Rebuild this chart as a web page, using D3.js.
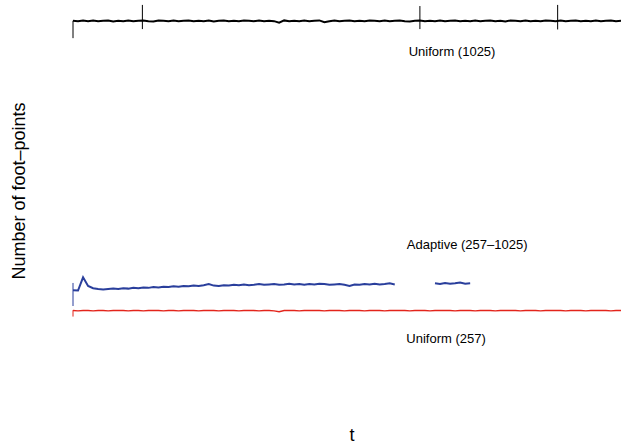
<!DOCTYPE html>
<head>
<meta charset="utf-8">
<style>
body { margin: 0; background: #fff; }
text { font-family: "Liberation Sans", Arial, sans-serif; fill: #000; }
.series { fill: none; stroke-linejoin: miter; }
</style>
</head>
<body>
<script src="https://d3js.org/d3.v7.min.js"></script>
<script>
// sample index along t (same grid for all three runs)
var uniform1025 = [
	1025,1024,1026,1024,1026,1024,1025,1026,1023,1025,
	1024,1026,1024,1025,1026,1024,1023,1026,1025,1024,
	1026,1024,1025,1026,1024,1025,1024,1026,1023,1025,
	1026,1024,1025,1024,1026,1025,1024,1026,1024,1025,
	1024,1020,1026,1024,1025,1024,1026,1024,1025,1026,
	1021,1024,1026,1024,1025,1026,1024,1025,1024,1026,
	1025,1024,1026,1024,1025,1026,1024,1023,1025,1026,
	1024,1025,1024,1026,1024,1025,1026,1024,1025,1024,
	1026,1024,1025,1026,1024,1025,1023,1026,1025,1024,
	1026,1024,1025,1024,1026,1025,1024,1026,1024,1025,
	1026,1024,1025,1024,1026,1024,1025,1026,1024,1025
];

var uniform257 = [
	258,257,258,258,257,258,258,257,258,258,
	258,257,258,258,257,258,258,258,257,258,
	258,257,258,258,258,257,258,258,258,257,
	258,258,258,257,258,258,258,257,258,258,
	257,255,258,258,258,257,258,258,258,258,
	257,258,258,258,257,258,258,258,257,258,
	258,258,257,258,258,258,258,257,258,258,
	258,257,258,258,258,258,257,258,258,258,
	257,258,258,258,257,258,258,258,258,257,
	258,258,258,257,258,258,258,258,257,258,
	258,258,257,258,258,258,258,257,258,258
];

var adaptive = [
	312,311,346,323,317,315,314,315,316,315,
	317,316,318,317,319,318,320,319,321,320,
	322,321,323,322,324,323,325,328,324,323,
	325,324,326,325,327,325,326,328,326,327,
	328,326,327,329,327,328,326,328,327,329,
	328,326,327,328,326,323,327,326,328,327,
	329,327,328,330,327,null,null,null,null,null,
	null,null,330,328,331,329,330,332,329,330
];

// sharp jumps (restarts) drawn as vertical strokes: t, low, high
var jumps = [
	{run: "u1025", t: 0, lo: 979, hi: 1025},
	{run: "u1025", t: 13.8, lo: 1003, hi: 1067},
	{run: "u1025", t: 69.0, lo: 1003, hi: 1064},
	{run: "u1025", t: 96.4, lo: 1002, hi: 1067},
	{run: "adaptive", t: 0, lo: 270, hi: 331},
	{run: "u257", t: 0, lo: 242, hi: 259}
];

var runs = [
	{key: "u1025", values: uniform1025, color: "#000000", width: 2, label: "Uniform (1025)", labelT: 75.4, labelV: 1025 - 85},
	{key: "adaptive", values: adaptive, color: "#2a3f9c", width: 2, label: "Adaptive (257\u20131025)", labelT: 78.4, labelV: 328 + 103},
	{key: "u257", values: uniform257, color: "#e3241b", width: 1.4, label: "Uniform (257)", labelT: 74.2, labelV: 257 - 76}
];

var W = 622, H = 447;

var x = d3.scaleLinear().domain([0, 109]).range([73, 621]);
var y = d3.scaleLinear().domain([0, 1080]).range([408, 0]);

var svg = d3.select("body").append("svg")
	.attr("width", W)
	.attr("height", H);

var line = d3.line()
	.defined(function(d) { return d != null; })
	.x(function(d, i) { return x(i); })
	.y(function(d) { return y(d); });

runs.forEach(function(r) {
	svg.append("path")
		.attr("class", "series")
		.attr("stroke", r.color)
		.attr("stroke-width", r.width)
		.attr("d", line(r.values));

	svg.selectAll(null)
		.data(jumps.filter(function(j) { return j.run == r.key; }))
		.enter().append("line")
		.attr("x1", function(j) { return x(j.t); })
		.attr("x2", function(j) { return x(j.t); })
		.attr("y1", function(j) { return y(j.lo); })
		.attr("y2", function(j) { return y(j.hi); })
		.attr("stroke", r.color)
		.attr("stroke-width", 1);

	svg.append("text")
		.attr("x", x(r.labelT))
		.attr("y", y(r.labelV))
		.attr("text-anchor", "middle")
		.attr("dominant-baseline", "middle")
		.style("font-size", "13px")
		.text(r.label);
});

svg.append("text")
	.attr("transform", "translate(20,191) rotate(-90)")
	.attr("text-anchor", "middle")
	.attr("dominant-baseline", "middle")
	.style("font-size", "18px")
	.text("Number of foot\u2013points");

svg.append("text")
	.attr("x", 352)
	.attr("y", 436)
	.attr("text-anchor", "middle")
	.attr("dominant-baseline", "middle")
	.style("font-size", "18px")
	.text("t");
</script>
</body>
